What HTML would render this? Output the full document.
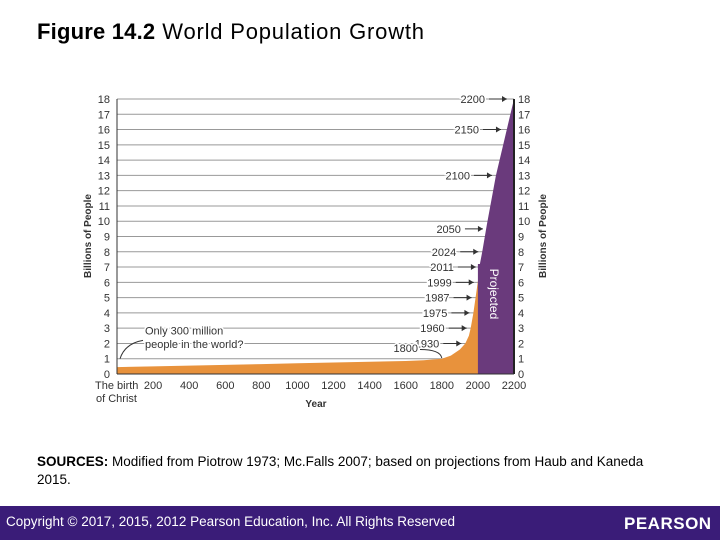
<!DOCTYPE html>
<html><head><meta charset="utf-8"><style>
body{margin:0;width:720px;height:540px;background:#fff;overflow:hidden;position:relative;font-family:"Liberation Sans",sans-serif}
.t{position:absolute}
</style></head><body>
<div class="t" style="left:37px;top:19px;font-size:22px;letter-spacing:0.8px;color:#000"><b style="letter-spacing:0.2px">Figure 14.2</b> World Population Growth</div>
<svg class="t" style="left:0;top:0" width="720" height="440" id="chart"></svg>
<div class="t" style="left:37px;top:453px;width:630px;font-size:13.5px;line-height:18px;color:#000"><b>SOURCES:</b> Modified from Piotrow 1973; Mc.Falls 2007; based on projections from Haub and Kaneda 2015.</div>
<div class="t" style="left:0;top:506px;width:720px;height:34px;background:#3a1c78"></div>
<div class="t" style="left:6px;top:514px;font-size:13.5px;color:#fff">Copyright © 2017, 2015, 2012 Pearson Education, Inc. All Rights Reserved</div>
<div class="t" style="left:624px;top:514px;font-size:17px;letter-spacing:0.5px;color:#fff;font-weight:bold">PEARSON</div>
<script>
const histYears=[0,200,400,600,800,1000,1200,1400,1600,1700,1800,1850,1900,1930,1950,1960,1975,1987,1999,2011];
const histPop=[0.45,0.5,0.55,0.6,0.65,0.7,0.75,0.8,0.85,0.9,1.0,1.2,1.6,2,2.5,3,4,5,6,7];
const projYears=[2011,2024,2050,2100,2150,2200];
const projPop=[7.2,8,9.8,13,15.5,18];
const xTicks=[200,400,600,800,1000,1200,1400,1600,1800,2000,2200];
const yTicks=[0,1,2,3,4,5,6,7,8,9,10,11,12,13,14,15,16,17,18];
const markLabels=["2200","2150","2100","2050","2024","2011","1999","1987","1975","1960","1930"];
const markValues=[18,16,13,9.5,8,7,6,5,4,3,2];
const NS="http://www.w3.org/2000/svg",svg=document.getElementById('chart');
const X=y=>117+(y)*(514-117)/2200, Y=v=>374-v*(374-99)/18;
function el(t,a,txt){const e=document.createElementNS(NS,t);for(const k in a)e.setAttribute(k,a[k]);if(txt!=null)e.textContent=txt;svg.appendChild(e);return e;}
yTicks.forEach(v=>{if(v>0){const g=el('line',{x1:117,x2:514,y1:Y(v),y2:Y(v),stroke:'#999','stroke-width':1});
}
const a=el('text',{x:110,y:Y(v)+4,'font-size':11,fill:'#333','text-anchor':'end'},v);
const b=el('text',{x:518,y:Y(v)+4,'font-size':11,fill:'#333'},v);});
let pd='M'+X(2000)+','+Y(0);projYears.forEach((y,i)=>{pd+=' L'+Math.max(X(y),X(2000))+','+Y(projPop[i]);});pd+=' L'+X(2200)+','+Y(0)+'Z';
const pa=el('path',{d:pd,fill:'#6a3a7c'});
let hd='M'+X(0)+','+Y(0);histYears.forEach((y,i)=>{hd+=' L'+X(y)+','+Y(histPop[i]);});hd+=' L'+X(2011)+','+Y(0)+'Z';
const ha=el('path',{d:hd,fill:'#e8923c'});
el('rect',{x:X(2000),y:Y(7.2),width:X(2200)-X(2000),height:Y(0)-Y(7.2),fill:'#6a3a7c'});
const pt=el('text',{x:0,y:0,'font-size':12,fill:'#fff',transform:'translate('+(X(2000)+12)+','+Y(6.9)+') rotate(90)'},'Projected');
el('line',{x1:117,x2:117,y1:Y(0),y2:Y(18),stroke:'#333'});el('line',{x1:514,x2:514,y1:Y(0),y2:Y(18),stroke:'#222','stroke-width':2});
el('line',{x1:117,x2:514,y1:Y(0),y2:Y(0),stroke:'#333'});
markLabels.forEach((l,i)=>{const v=markValues[i];const yr=+l;const hx=X(yr);
const ax=Math.min(hx,511)-4;
const t=el('text',{x:ax-22,y:Y(v)+4,'font-size':11,fill:'#333','text-anchor':'end',stroke:'#fff','stroke-width':3,'paint-order':'stroke'},l);
el('line',{x1:ax-18,x2:ax,y1:Y(v),y2:Y(v),stroke:'#333'});el('path',{d:`M${ax},${Y(v)} l-5,-3 v6z`,fill:'#333'});});
const l8=el('text',{x:418,y:Y(1.45),'font-size':11,fill:'#333','text-anchor':'end',stroke:'#fff','stroke-width':3,'paint-order':'stroke'},'1800');
el('path',{d:`M420,${Y(1.6)} Q440,${Y(1.6)} ${X(1800)},${Y(1.05)}`,stroke:'#333',fill:'none'});
const n1=el('text',{x:145,y:Y(2.6),'font-size':11,fill:'#333',stroke:'#fff','stroke-width':3,'paint-order':'stroke'},'Only 300 million');
const n2=el('text',{x:145,y:Y(1.7),'font-size':11,fill:'#333',stroke:'#fff','stroke-width':3,'paint-order':'stroke'},'people in the world?');
el('path',{d:`M143,${Y(2.2)} Q125,${Y(2)} 120,${Y(1)}`,stroke:'#333',fill:'none'});
xTicks.forEach(v=>{const t=el('text',{x:X(v),y:389,'font-size':11,fill:'#333','text-anchor':'middle'},v);});
el('text',{x:95,y:389,'font-size':11,fill:'#333'},'The birth');el('text',{x:96,y:402,'font-size':11,fill:'#333'},'of Christ');
const xt=el('text',{x:316,y:407,'font-size':10,'font-weight':'bold',fill:'#333','text-anchor':'middle'},'Year');
const yl=el('text',{x:0,y:0,'font-size':10,'font-weight':'bold',fill:'#333','text-anchor':'middle',transform:'translate(91,236) rotate(-90)'},'Billions of People');
const yr2=el('text',{x:0,y:0,'font-size':10,'font-weight':'bold',fill:'#333','text-anchor':'middle',transform:'translate(546,236) rotate(-90)'},'Billions of People');
</script>
</body></html>
